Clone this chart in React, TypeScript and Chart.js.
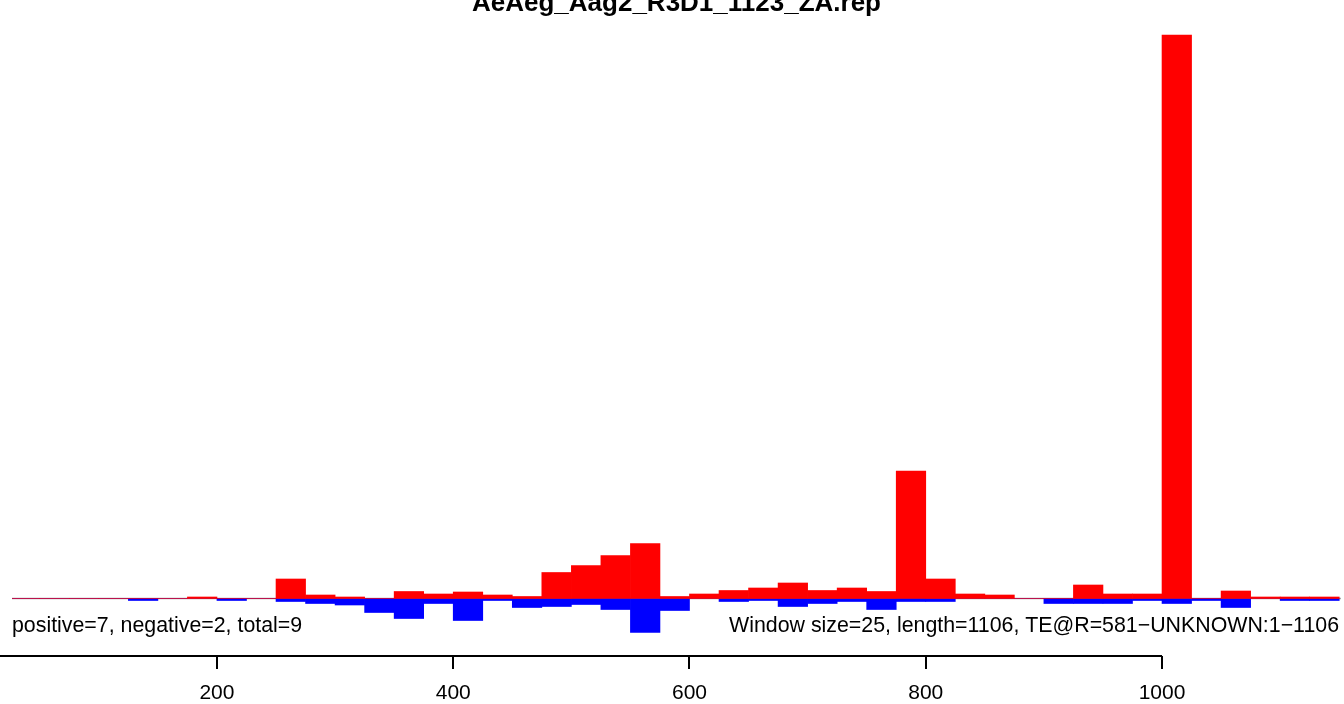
import React, { useEffect, useRef } from "react";
import { Chart, registerables } from "chart.js";

Chart.register(...registerables);

const TITLE = "AeAeg_Aag2_R3D1_1123_ZA.rep";
const WINDOW_SIZE = 25;

// window start positions (bp)
const windowStarts = [
  0, 25, 50, 75, 100, 125, 150, 175, 200, 225, 250, 275, 300, 325, 350, 375,
  400, 425, 450, 475, 500, 525, 550, 575, 600, 625, 650, 675, 700, 725, 750,
  775, 800, 825, 850, 875, 900, 925, 950, 975, 1000, 1025, 1050, 1075, 1100,
  1125,
];

// sense (positive) signal per window
const positiveValues = [
  0, 0, 0, 0, 0, 0, 0, 1.5, 0, 0, 19.5, 3.5, 1.5, 0, 7, 4.5,
  6.5, 3.5, 2, 26, 33, 43, 55, 2, 4.5, 8, 10.5, 15.5, 8, 10.5, 7,
  127.5, 19.5, 4.5, 3.5, 0, 0, 13.5, 4.5, 4.5, 563.5, 0, 7.5, 1.5, 1.5,
  1.5,
];

// antisense (negative) signal per window
const negativeValues = [
  0, 0, 0, 0, 0, -2, 0, 0, -2, 0, -3, -5, -6.5, -14, -20, -5,
  -22, -2, -9, -8, -6, -11, -34, -12, 0, -3, -2, -8, -5, -3, -11,
  -3, -3, 0, 0, 0, -5, -5, -5, -2, -5, -2, -9, 0, -2,
  -2,
];

const xTickValues = [0, 200, 400, 600, 800, 1000];
const X_MIN = 26.5;
const X_MAX = 1151.5;
const Y_MIN = -57.5;
const Y_MAX = 579.5;

const LEFT_NOTE = "positive=7, negative=2, total=9";
const RIGHT_NOTE = "Window size=25, length=1106, TE@R=581\u2212UNKNOWN:1\u22121106";

const FONT = "'Liberation Sans', Arial, Helvetica, sans-serif";

const decorPlugin = {
  id: "decor",
  beforeDatasetsDraw(chart: any) {
    const { ctx, chartArea, scales } = chart;
    const y0 = scales.y.getPixelForValue(0);
    ctx.save();
    ctx.strokeStyle = "#a6a6a6";
    ctx.lineWidth = 1.5;
    ctx.beginPath();
    ctx.moveTo(chartArea.left, y0);
    ctx.lineTo(chartArea.right, y0);
    ctx.stroke();
    ctx.restore();
  },
  afterDraw(chart: any) {
    const { ctx, chartArea, scales } = chart;
    const xs = scales.x;
    ctx.save();
    // axis line spanning the tick range
    ctx.strokeStyle = "#000";
    ctx.lineWidth = 2;
    ctx.beginPath();
    ctx.moveTo(xs.getPixelForValue(xTickValues[0]), xs.top);
    ctx.lineTo(xs.getPixelForValue(xTickValues[xTickValues.length - 1]), xs.top);
    ctx.stroke();
    // notes
    ctx.fillStyle = "#000";
    ctx.font = `21.35px ${FONT}`;
    ctx.textBaseline = "alphabetic";
    const ny = chartArea.bottom - 24.5;
    ctx.textAlign = "left";
    ctx.fillText(LEFT_NOTE, chartArea.left, ny);
    ctx.textAlign = "right";
    ctx.fillText(RIGHT_NOTE, chartArea.right - 2, ny);
    ctx.restore();
  },
};

export default function App() {
  const canvasRef = useRef<HTMLCanvasElement | null>(null);

  useEffect(() => {
    if (!canvasRef.current) return;
    const chart = new Chart(canvasRef.current, {
      type: "bar",
      data: {
        datasets: [
          {
            label: "positive",
            data: windowStarts.map((s, i) => ({ x: s + WINDOW_SIZE / 2, y: positiveValues[i] })),
            backgroundColor: "#ff0000",
            borderWidth: 0,
            barPercentage: 1,
            categoryPercentage: 1,
            grouped: false,
          },
          {
            label: "negative",
            data: windowStarts.map((s, i) => ({ x: s + WINDOW_SIZE / 2, y: negativeValues[i] })),
            backgroundColor: "#0000ff",
            borderWidth: 0,
            barPercentage: 1,
            categoryPercentage: 1,
            grouped: false,
          },
        ],
      } as any,
      options: {
        animation: false,
        responsive: false,
        events: [],
        layout: { padding: { left: 12, right: 3, top: 0, bottom: -13 } },
        plugins: {
          legend: { display: false },
          tooltip: { enabled: false },
          title: {
            display: true,
            text: TITLE,
            color: "#000",
            font: { family: FONT, size: 26, weight: "bold", lineHeight: 1.2 },
            padding: { top: -12.2, bottom: 0 },
          },
        },
        scales: {
          x: {
            type: "linear",
            min: X_MIN,
            max: X_MAX,
            offset: false,
            afterBuildTicks: (axis: any) => {
              axis.ticks = xTickValues
                .filter((v) => v >= X_MIN && v <= X_MAX)
                .map((v) => ({ value: v }));
            },
            grid: {
              display: true,
              offset: false,
              drawOnChartArea: false,
              drawTicks: true,
              tickLength: 13,
              color: "#000",
              lineWidth: 2,
            },
            border: { display: false },
            ticks: {
              color: "#000",
              font: { family: FONT, size: 21, lineHeight: 1.2 },
              padding: 11.4,
              maxRotation: 0,
              autoSkip: false,
              callback: (v: any) => String(v),
            },
          },
          y: {
            type: "linear",
            display: false,
            min: Y_MIN,
            max: Y_MAX,
          },
        },
      } as any,
      plugins: [decorPlugin],
    });
    return () => chart.destroy();
  }, []);

  return (
    <div style={{ position: "fixed", left: 0, top: 0, width: 1344, height: 704, background: "#fff" }}>
      <canvas ref={canvasRef} width={1344} height={704} style={{ display: "block" }} />
    </div>
  );
}
